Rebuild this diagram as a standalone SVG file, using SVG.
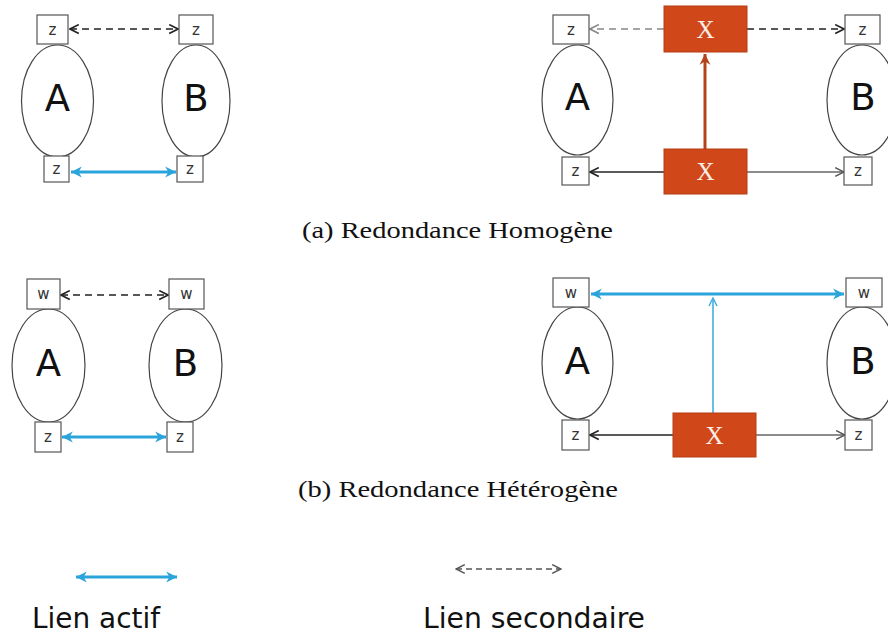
<svg xmlns="http://www.w3.org/2000/svg" width="888" height="635" viewBox="0 0 888 635">
<style>
.box{fill:#fff;stroke:#555;stroke-width:1.2}
.ell{fill:#fff;stroke:#444;stroke-width:1.2}
.lt{font-family:"DejaVu Sans","Liberation Sans",sans-serif;font-size:15px;fill:#333;text-anchor:middle;dominant-baseline:central}
.big{font-family:"DejaVu Sans","Liberation Sans",sans-serif;font-size:37px;fill:#111;text-anchor:middle;dominant-baseline:central}
.xbox{fill:#D0481A;stroke:#B33C12;stroke-width:1}
.xt{font-family:"Liberation Serif","DejaVu Serif",serif;font-size:25px;fill:#FBEDE6;text-anchor:middle;dominant-baseline:central}
.dash{fill:none;stroke:#222;stroke-width:1.6;stroke-dasharray:7 5}
.dashg{fill:none;stroke:#888;stroke-width:1.6;stroke-dasharray:7 5}
.solid{fill:none;stroke:#222;stroke-width:1.4}
.solidg{fill:none;stroke:#666;stroke-width:1.4}
.blue{fill:none;stroke:#2BA4DB;stroke-width:3}
.bluet{fill:none;stroke:#45AEE0;stroke-width:1.6}
.red{fill:none;stroke:#B5431A;stroke-width:3}
.cap{font-family:"Liberation Serif","DejaVu Serif",serif;font-size:23px;fill:#111}
.leg{font-family:"DejaVu Sans","Liberation Sans",sans-serif;font-size:29px;fill:#111}
</style>
<defs>
<marker id="od" viewBox="0 0 10 10" refX="9" refY="5" markerWidth="11" markerHeight="11" markerUnits="userSpaceOnUse" orient="auto-start-reverse"><path d="M1,1 L9,5 L1,9" fill="none" stroke="#222" stroke-width="1.5"/></marker>
<marker id="og" viewBox="0 0 10 10" refX="9" refY="5" markerWidth="11" markerHeight="11" markerUnits="userSpaceOnUse" orient="auto-start-reverse"><path d="M1,1 L9,5 L1,9" fill="none" stroke="#888" stroke-width="1.5"/></marker>
<marker id="om" viewBox="0 0 10 10" refX="9" refY="5" markerWidth="11" markerHeight="11" markerUnits="userSpaceOnUse" orient="auto-start-reverse"><path d="M1,1 L9,5 L1,9" fill="none" stroke="#555" stroke-width="1.3"/></marker>
<marker id="bl" viewBox="0 0 12 12" refX="11" refY="6" markerWidth="13" markerHeight="13" markerUnits="userSpaceOnUse" orient="auto-start-reverse"><path d="M1,1 L11,6 L1,11 L4,6 z" fill="#2BA4DB"/></marker>
<marker id="blt" viewBox="0 0 10 10" refX="9" refY="5" markerWidth="10" markerHeight="10" markerUnits="userSpaceOnUse" orient="auto"><path d="M1,1 L9,5 L1,9" fill="none" stroke="#45AEE0" stroke-width="1.5"/></marker>
<marker id="rd" viewBox="0 0 12 12" refX="11" refY="6" markerWidth="13" markerHeight="13" markerUnits="userSpaceOnUse" orient="auto"><path d="M1,1 L11,6 L1,11 L4,6 z" fill="#B5431A"/></marker>
</defs>

<g id="connectors">
<line class="dash" x1="70" y1="29" x2="178" y2="29" marker-start="url(#od)" marker-end="url(#od)"/>
<line class="blue" x1="71" y1="172" x2="176" y2="172" marker-start="url(#bl)" marker-end="url(#bl)"/>
<line class="dashg" x1="664" y1="29" x2="590" y2="29" marker-end="url(#og)"/>
<line class="dash" x1="747" y1="29" x2="844" y2="29" marker-end="url(#od)"/>
<line class="red" x1="705" y1="149" x2="705" y2="54" marker-end="url(#rd)"/>
<line class="solid" x1="664" y1="172" x2="590" y2="172" marker-end="url(#od)"/>
<line class="solidg" x1="747" y1="172" x2="844" y2="172" marker-end="url(#om)"/>
<line class="dash" x1="61" y1="295" x2="168" y2="295" marker-start="url(#od)" marker-end="url(#od)"/>
<line class="blue" x1="62" y1="437" x2="166" y2="437" marker-start="url(#bl)" marker-end="url(#bl)"/>
<line class="blue" x1="591" y1="294" x2="844" y2="294" marker-start="url(#bl)" marker-end="url(#bl)"/>
<line class="bluet" x1="713" y1="413" x2="713" y2="298" marker-end="url(#blt)"/>
<line class="solid" x1="673" y1="435" x2="590" y2="435" marker-end="url(#od)"/>
<line class="solidg" x1="756" y1="435" x2="845" y2="435" marker-end="url(#om)"/>
</g>

<g id="a-left">
<g id="a1-A"><ellipse class="ell" cx="57.5" cy="101" rx="36" ry="56"/><text class="big" x="57.5" y="98">A</text></g>
<g id="a1-B"><ellipse class="ell" cx="196" cy="101" rx="34" ry="56"/><text class="big" x="196" y="98">B</text></g>
<g id="a1-z1"><rect class="box" x="37" y="15" width="31" height="29"/><text class="lt" x="52.5" y="29.5">z</text></g>
<g id="a1-z2"><rect class="box" x="44" y="156" width="25" height="26"/><text class="lt" x="56.5" y="169">z</text></g>
<g id="a1-z3"><rect class="box" x="179" y="15" width="34" height="29"/><text class="lt" x="196" y="29.5">z</text></g>
<g id="a1-z4"><rect class="box" x="177" y="156" width="26" height="26"/><text class="lt" x="190" y="169">z</text></g>
</g>

<g id="a-right">
<g id="a2-A"><ellipse class="ell" cx="577.5" cy="100" rx="35.5" ry="55"/><text class="big" x="577.5" y="97">A</text></g>
<g id="a2-B"><ellipse class="ell" cx="862" cy="100" rx="35" ry="55"/><text class="big" x="863" y="97">B</text></g>
<g id="a2-z1"><rect class="box" x="553" y="15" width="36" height="29"/><text class="lt" x="571" y="29.5">z</text></g>
<g id="a2-z2"><rect class="box" x="562" y="157" width="27" height="28"/><text class="lt" x="575.5" y="171">z</text></g>
<g id="a2-z3"><rect class="box" x="845" y="15" width="35" height="29"/><text class="lt" x="862.5" y="29.5">z</text></g>
<g id="a2-z4"><rect class="box" x="844" y="157" width="28" height="28"/><text class="lt" x="858" y="171">z</text></g>
<g id="a2-X1"><rect class="xbox" x="664" y="6" width="83" height="46"/><text class="xt" x="705.5" y="29">X</text></g>
<g id="a2-X2"><rect class="xbox" x="664" y="149" width="83" height="45"/><text class="xt" x="705.5" y="171.5">X</text></g>
</g>

<text class="cap" x="302" y="238" textLength="311" lengthAdjust="spacingAndGlyphs">(a) Redondance Homogène</text>

<g id="b-left">
<g id="b1-A"><ellipse class="ell" cx="48.5" cy="365.5" rx="36.5" ry="56.5"/><text class="big" x="48.5" y="363">A</text></g>
<g id="b1-B"><ellipse class="ell" cx="185.5" cy="365.5" rx="36.5" ry="56.5"/><text class="big" x="185.5" y="363">B</text></g>
<g id="b1-w1"><rect class="box" x="27" y="279" width="33" height="30"/><text class="lt" x="43.5" y="294">w</text></g>
<g id="b1-z2"><rect class="box" x="35" y="422" width="26" height="30"/><text class="lt" x="48" y="437">z</text></g>
<g id="b1-w3"><rect class="box" x="169" y="279" width="35" height="30"/><text class="lt" x="186.5" y="294">w</text></g>
<g id="b1-z4"><rect class="box" x="167" y="422" width="26" height="30"/><text class="lt" x="180" y="437">z</text></g>
</g>

<g id="b-right">
<g id="b2-A"><ellipse class="ell" cx="577.5" cy="363" rx="35.5" ry="56"/><text class="big" x="577.5" y="361">A</text></g>
<g id="b2-B"><ellipse class="ell" cx="862" cy="363" rx="35" ry="56"/><text class="big" x="863" y="361">B</text></g>
<g id="b2-w1"><rect class="box" x="553" y="278" width="36" height="29"/><text class="lt" x="571" y="292.5">w</text></g>
<g id="b2-z2"><rect class="box" x="562" y="420" width="27" height="30"/><text class="lt" x="575.5" y="435">z</text></g>
<g id="b2-w3"><rect class="box" x="846" y="278" width="36" height="29"/><text class="lt" x="864" y="292.5">w</text></g>
<g id="b2-z4"><rect class="box" x="845" y="420" width="27" height="30"/><text class="lt" x="858.5" y="435">z</text></g>
<g id="b2-X"><rect class="xbox" x="673" y="413" width="83" height="44"/><text class="xt" x="714.5" y="435">X</text></g>
</g>

<text class="cap" x="298" y="497" textLength="320" lengthAdjust="spacingAndGlyphs">(b) Redondance Hétérogène</text>

<g id="legend">
<line class="blue" x1="76" y1="577" x2="177" y2="577" marker-start="url(#bl)" marker-end="url(#bl)"/>
<line fill="none" stroke="#555" stroke-width="1.3" stroke-dasharray="6 4" x1="456" y1="569" x2="561" y2="569" marker-start="url(#om)" marker-end="url(#om)"/>
<text class="leg" x="32" y="628" textLength="128" lengthAdjust="spacingAndGlyphs">Lien actif</text>
<text class="leg" x="423" y="628" textLength="222" lengthAdjust="spacingAndGlyphs">Lien secondaire</text>
</g>
</svg>
